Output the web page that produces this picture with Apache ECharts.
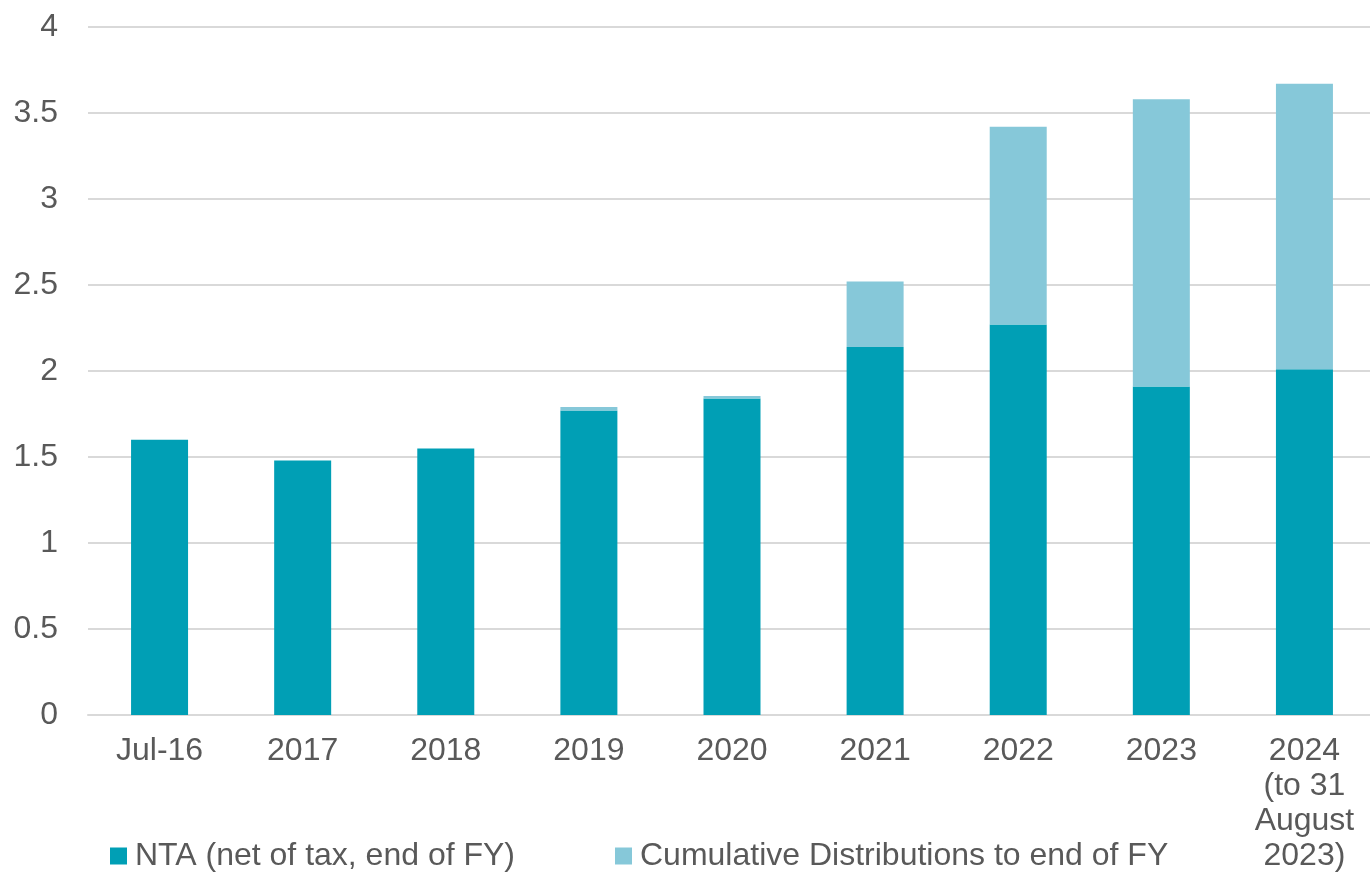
<!DOCTYPE html>
<html>
<head>
<meta charset="utf-8">
<script src="https://cdn.jsdelivr.net/npm/echarts@6/dist/echarts.min.js"></script>
<style>
  html, body { margin: 0; padding: 0; background: #fff; }
  #chart { width: 1370px; height: 876px; }
</style>
</head>
<body>
<div id="chart"></div>
<script>
  var categories = ['Jul-16', '2017', '2018', '2019', '2020', '2021', '2022', '2023', '2024\n(to 31\nAugust\n2023)'];
  var ntaValues = [1.60, 1.48, 1.55, 1.77, 1.84, 2.14, 2.27, 1.91, 2.01];
  var distValues = [0, 0, 0, 0.02, 0.015, 0.38, 1.15, 1.67, 1.66];
  var seriesNames = ['NTA (net of tax, end of FY)', 'Cumulative Distributions to end of FY'];

  var textColor = '#595959';
  var font = 'Liberation Sans, Arial, sans-serif';

  var myChart = echarts.init(document.getElementById('chart'));
  var option = {
    animation: false,
    grid: {
      left: 88,
      width: 1288,
      top: 27,
      height: 688,
      outerBoundsMode: 'none'
    },
    legend: {
      left: 105,
      top: 834,
      itemWidth: 17,
      itemHeight: 17,
      itemGap: 100,
      icon: 'rect',
      textStyle: {
        color: textColor,
        fontFamily: font,
        fontSize: 32,
        lineHeight: 34,
        padding: [0, 0, 0, 3]
      },
      data: seriesNames
    },
    xAxis: {
      type: 'category',
      data: categories,
      axisLine: { show: true, lineStyle: { color: '#D9D9D9', width: 2 } },
      axisTick: { show: false },
      axisLabel: {
        color: textColor,
        fontFamily: font,
        fontSize: 32,
        lineHeight: 35,
        margin: 19,
        interval: 0
      }
    },
    yAxis: {
      type: 'value',
      min: 0,
      max: 4,
      interval: 0.5,
      axisLine: { show: false },
      axisTick: { show: false },
      splitLine: { lineStyle: { color: '#D9D9D9', width: 2 } },
      axisLabel: {
        color: textColor,
        fontFamily: font,
        fontSize: 32,
        margin: 30
      }
    },
    series: [
      {
        name: seriesNames[0],
        type: 'bar',
        stack: 'total',
        barWidth: 57,
        itemStyle: { color: '#009FB5' },
        data: ntaValues
      },
      {
        name: seriesNames[1],
        type: 'bar',
        stack: 'total',
        barWidth: 57,
        itemStyle: { color: '#86C8D9' },
        data: distValues
      }
    ]
  };
  myChart.setOption(option);
</script>
</body>
</html>
